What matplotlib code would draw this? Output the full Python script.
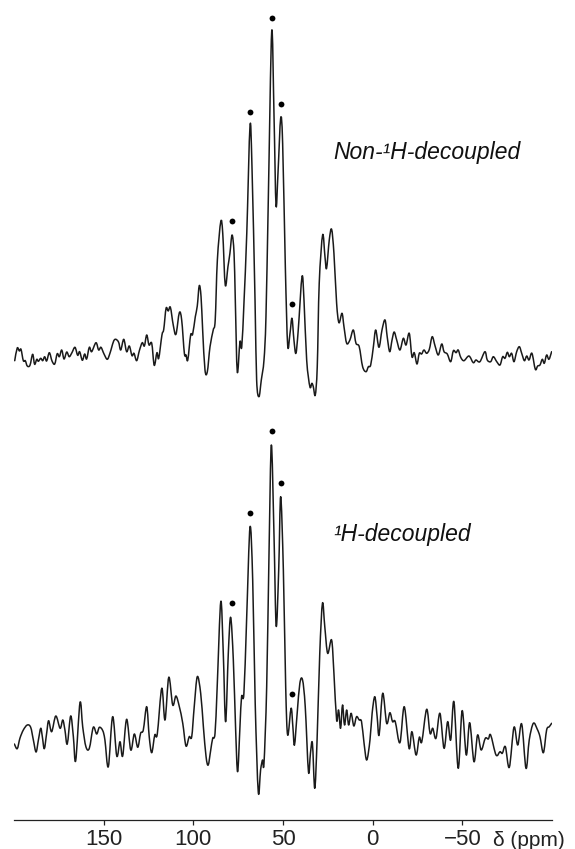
import numpy as np
import matplotlib
matplotlib.use("Agg")
import matplotlib.pyplot as plt
from matplotlib.path import Path
from matplotlib.patches import PathPatch

plt.rcParams['font.family'] = ['Liberation Sans', 'DejaVu Sans']

# ---- data: chemical shift (ppm) and intensity (arb. units) ----
top_ppm = [199.6, 198.2, 197.0, 196.1, 194.8, 193.7, 192.6, 191.1, 189.6, 188.5,
           187.3, 186.4, 185.1, 184.0, 182.9, 181.8, 180.3, 178.8, 177.3, 175.9,
           174.7, 173.4, 172.1, 170.6, 169.2, 167.7, 166.0, 164.5, 163.4, 161.9,
           160.6, 159.5, 158.0, 156.7, 154.3, 152.8, 151.5, 149.8, 148.0, 146.5,
           144.1, 141.8, 140.5, 138.8, 137.2, 135.7, 134.2, 133.1, 131.6, 130.1,
           128.5, 127.3, 126.0, 124.7, 123.2, 121.8, 120.3, 119.3, 117.5, 116.5,
           115.2, 114.0, 112.8, 111.2, 109.7, 107.8, 106.5, 105.0, 104.1, 103.1,
           101.5, 100.4, 98.9, 97.8, 96.7, 95.7, 94.8, 93.5, 92.2, 90.7,
           88.9, 87.8, 86.6, 84.7, 83.6, 82.2, 80.7, 79.6, 78.4, 77.3,
           76.6, 75.5, 74.0, 73.0, 71.7, 70.2, 68.4, 67.3, 65.6, 64.7,
           63.4, 62.1, 60.6, 59.5, 58.2, 56.3, 55.0, 53.9, 52.8, 51.3,
           50.2, 48.7, 47.4, 46.1, 45.0, 43.9, 42.8, 41.5, 39.4, 38.3,
           36.8, 35.0, 33.9, 33.1, 32.0, 30.9, 29.8, 27.9, 26.6, 25.7,
           24.2, 22.9, 21.6, 20.1, 18.8, 17.1, 16.0, 14.5, 12.7, 10.8,
           9.3, 7.5, 5.6, 3.7, 2.4, 1.1, -0.4, -1.7, -3.5, -5.2,
           -6.9, -8.1, -9.5, -10.8, -12.0, -13.4, -15.2, -17.1, -18.6, -20.4,
           -21.9, -23.2, -24.7, -26.0, -27.3, -28.6, -30.1, -31.6, -33.2, -34.8,
           -36.6, -38.5, -39.8, -41.6, -43.5, -45.0, -46.5, -47.7, -49.1, -50.9,
           -53.7, -56.1, -57.6, -59.8, -62.6, -63.9, -65.8, -67.3, -69.2, -71.0,
           -72.5, -73.8, -75.1, -76.2, -77.5, -78.8, -80.3, -81.8, -83.1, -84.6,
           -85.9, -87.2, -88.8, -90.7, -92.0, -93.3, -94.6, -95.7, -97.0, -98.3,
           -99.8]
top_int = [9.3, 22, 19, 20.7, 9.3, 9.3, 4, 4.7, 15.7, 5.7,
           10.7, 8.7, 11.7, 9.3, 13.3, 9, 17.3, 9, 6, 16.3,
           13.3, 20, 11, 18, 13.3, 17.3, 22.7, 14.7, 18.3, 9.7,
           16, 11, 22.7, 18.3, 27.3, 20, 22.7, 16, 10.7, 16.7,
           30, 28.3, 20, 30.7, 18.3, 24, 14.3, 16.7, 9.3, 19.3,
           27.3, 24, 35, 25, 26.7, 4.7, 17.3, 11.7, 35, 40.7,
           61.7, 59, 62.7, 45, 35.7, 57.3, 50, 16.7, 15, 10,
           35, 35.7, 53.3, 64, 84.3, 73.3, 40, 0, -1.7, 23.3,
           40, 50, 110, 148.3, 136.7, 85, 103.3, 116.7, 135, 116.7,
           70, -1.7, 28.3, 23.3, 70, 136.7, 244, 203.3, 70, -10,
           -26.7, -10, 10, 53.3, 170, 338.3, 253.3, 165, 196.7, 251.7,
           226.7, 103.3, 25, 36.7, 51.7, 30, 16.7, 40, 93.3, 70,
           10, -16.7, -13.3, -16.7, -25, 3.3, 86.7, 135, 113.3, 101.7,
           130, 140.7, 116.7, 66.7, 47.3, 56.7, 43.3, 26.7, 30, 40,
           26.7, 23.3, 3.3, -1.7, 3.3, 5, 23.3, 40, 22.7, 40,
           50, 33.3, 18.3, 30, 38, 30, 20, 31.7, 25, 36.7,
           13.3, 17.3, 6, 16.7, 16, 20, 16.7, 20.7, 33.3, 24,
           15, 26, 18.3, 16, 8.3, 19.3, 17.3, 20, 12.7, 9.3,
           14, 7.3, 10, 8.3, 18.3, 10, 8.3, 13.3, 8.3, 5,
           13.3, 11.7, 17.7, 13.3, 16.7, 8.3, 18.3, 23.3, 16.7, 9.3,
           14, 10, 16.7, 0.7, 4, 5, 10.7, 6.7, 15, 10.7,
           18.3]

bot_ppm = [199.8, 198.2, 196.7, 194.8, 192.6, 190.7, 189.2, 187.7, 186.4, 185.1,
           184.2, 183.1, 181.8, 180.7, 179.0, 176.7, 174.3, 172.8, 171.6, 170.3,
           168.4, 166.9, 165.6, 163.2, 161.7, 159.9, 158.0, 155.8, 153.9, 152.4,
           150.5, 149.3, 147.4, 145.0, 142.7, 140.9, 139.4, 137.2, 134.9, 132.9,
           131.0, 129.4, 127.9, 126.0, 124.6, 123.2, 121.5, 120.1, 117.6, 115.8,
           113.7, 111.5, 109.7, 107.8, 105.9, 104.1, 102.3, 100.9, 99.5, 97.8,
           95.9, 94.4, 92.9, 91.7, 90.3, 89.2, 87.9, 86.7, 84.7, 83.3,
           82.0, 80.5, 79.2, 77.7, 76.4, 75.3, 74.0, 73.1, 71.8, 70.3,
           68.4, 66.9, 65.5, 63.8, 62.5, 61.4, 60.6, 59.1, 57.8, 56.5,
           55.0, 53.8, 52.4, 51.3, 49.8, 48.5, 47.4, 45.5, 44.5, 43.6,
           42.1, 40.6, 39.1, 37.6, 35.8, 34.7, 33.6, 32.3, 31.0, 29.5,
           28.0, 26.7, 25.1, 22.9, 21.6, 20.1, 19.0, 17.9, 16.8, 15.7,
           14.5, 13.4, 12.0, 10.5, 9.0, 7.5, 6.2, 4.8, 3.3, 1.5,
           0.3, -1.2, -2.5, -3.6, -5.6, -7.8, -9.6, -11.1, -12.6, -15.2,
           -17.6, -20.3, -21.9, -24.2, -26.0, -27.4, -30.1, -32.0, -33.5, -35.3,
           -37.5, -39.8, -41.8, -43.5, -45.3, -47.7, -49.9, -52.2, -54.1, -56.5,
           -58.5, -60.5, -62.8, -64.5, -65.8, -68.8, -71.0, -72.3, -74.0, -76.2,
           -78.8, -80.9, -83.1, -85.5, -87.3, -89.6, -91.8, -93.3, -95.2, -97.0,
           -98.5, -99.8]
bot_int = [36, 31.3, 41.7, 50, 55, 52.7, 40, 28, 40, 51.7,
           43.3, 31.3, 46.7, 59.3, 48.3, 64, 51.7, 60, 50, 36,
           64, 43.3, 19.3, 77.3, 53.3, 33.3, 31.7, 52.7, 46, 52.7,
           49.3, 40, 13.3, 63.3, 24, 38.3, 24, 60.7, 30, 46,
           32.7, 46.7, 50, 73.3, 43.3, 27.3, 45, 46, 91.7, 60,
           102.7, 75, 84, 73.3, 56.7, 34, 43.3, 43.3, 73.3, 103.3,
           86.7, 53.3, 23.3, 15, 30, 41.7, 46.7, 93.3, 178.3, 126.7,
           58.3, 126.7, 162.7, 120, 50, 8.3, 53.3, 83.3, 86.7, 160,
           252.7, 200, 76.7, -11.7, 10, 20, 16.7, 93.3, 226.7, 335,
           243.3, 154, 210, 283.3, 210, 93.3, 45, 71.7, 53.3, 35,
           66.7, 96.7, 100, 73.3, 8.3, 26.7, 36.7, -8.3, 40, 126.7,
           176.7, 153.3, 126.7, 140, 106.7, 60, 70, 51.7, 75, 55,
           70, 55, 66.7, 54, 63.3, 60, 58.3, 36.7, 20, 40,
           66.7, 83.3, 63.3, 45, 86.7, 56.7, 67.3, 58.3, 58.3, 37.3,
           73.3, 31.7, 48.3, 25, 42.7, 38.3, 70.7, 46.7, 51.7, 41.7,
           66.7, 31.7, 58.3, 40, 78.3, 11.7, 69.3, 25, 57.3, 18.3,
           45, 30, 41.7, 41, 45, 25, 28.3, 26.7, 33.3, 12.7,
           52.7, 35, 56, 11.7, 40, 56.7, 50.7, 43.3, 27.3, 50,
           53.3, 56.7]

marked_ppm = [78.4, 68.4, 56.3, 51.3, 45.2]   # peaks labelled with dots
tick_vals = [150, 100, 50, 0, -50]
tick_labels = ['150', '100', '50', '0', '\u221250']
label_top = 'Non-\u00b9H-decoupled'
label_bot = '\u00b9H-decoupled'

# ---- layout / style ----
W, H = 575, 849
fig = plt.figure(figsize=(W / 100, H / 100), dpi=100)
ax = fig.add_axes([14 / W, (H - 820) / H, 538 / W, 820 / H])
ax.set_xlim(200, -100)
ax.set_ylim(0, 820)
off_top, off_bot = 450, 40
lc = '#1a1a1a'


def smooth_trace(x, y):
    """Smooth (Catmull-Rom style Bezier) rendering through the read points."""
    pts = np.column_stack([x, y])
    verts = [pts[0]]
    codes = [Path.MOVETO]
    n = len(pts)
    for i in range(n - 1):
        p0 = pts[i - 1] if i > 0 else pts[i]
        p1, p2 = pts[i], pts[i + 1]
        p3 = pts[i + 2] if i + 2 < n else pts[i + 1]
        verts += [p1 + (p2 - p0) / 6.0, p2 - (p3 - p1) / 6.0, p2]
        codes += [Path.CURVE4] * 3
    return Path(verts, codes)


for ppm, inten, off in ((top_ppm, top_int, off_top), (bot_ppm, bot_int, off_bot)):
    x = np.array(ppm)
    y = np.array(inten) + off
    ax.add_patch(PathPatch(smooth_trace(x, y), fill=False, edgecolor=lc, lw=1.1,
                           joinstyle='round', capstyle='round'))
    for p in marked_ppm:
        m = np.abs(x - p) <= 1.2
        ax.plot(p, y[m].max() + 14, 'o', color='black', ms=4.2, mec='none')

ax.text(22.1, 667, label_top, style='italic', fontsize=16.5, ha='left', va='center', color='#111')
ax.text(22.1, 285, label_bot, style='italic', fontsize=16.5, ha='left', va='center', color='#111')

for s in ('left', 'right', 'top'):
    ax.spines[s].set_visible(False)
ax.spines['bottom'].set_linewidth(0.9)
ax.spines['bottom'].set_color('#222')
ax.set_yticks([])
ax.set_xticks(tick_vals)
ax.set_xticklabels(tick_labels, fontsize=16)
ax.tick_params(axis='x', direction='out', length=3.5, width=0.9, pad=3, colors='#222')
fig.text(493 / W, (H - 845.7) / H, '\u03b4 (ppm)', fontsize=15, ha='left', va='baseline', color='#222')

fig.savefig('out.png', dpi=100)
